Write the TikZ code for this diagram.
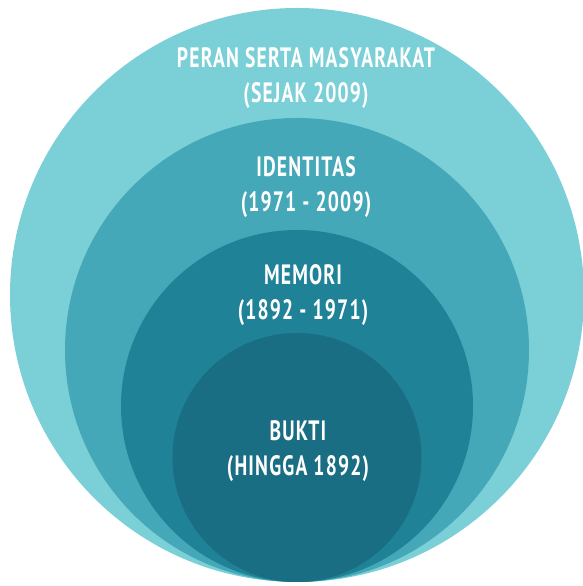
\documentclass[tikz,border=0pt]{standalone}
\usepackage{fontspec}
\setsansfont{PT Sans}
\usepackage{tikz}
\usetikzlibrary{calc}

\definecolor{ringA}{RGB}{122,208,214}
\definecolor{ringB}{RGB}{69,168,184}
\definecolor{ringC}{RGB}{31,130,151}
\definecolor{ringD}{RGB}{25,110,131}

\newcommand{\narrow}[1]{\scalebox{0.70}[1]{#1}}

\tikzset{
  ringlabel/.style={text=white, align=center, inner sep=0pt,
    font=\sffamily\bfseries\fontsize{28}{35}\selectfont\addfontfeature{LetterSpace=6}}
}

\begin{document}
\begin{tikzpicture}[x=1pt,y=1pt]
            % Page size and common touching point at the bottom
            \useasboundingbox (0,0) rectangle (583,586);
            \def\tx{297}  % x of touching point
            \def\ty{4}    % y of touching point

            % Radii of the rings
            \def\ra{287}
            \def\rb{232}
            \def\rc{176}
            \def\rd{124.5}

            % Centres of the rings
            \coordinate (T) at (\tx, \ty);
            \coordinate (CA) at (\tx, {\ty+\ra});
            \coordinate (CB) at (\tx, {\ty+\rb});
            \coordinate (CC) at (\tx, {\ty+\rc});
            \coordinate (CD) at (\tx, {\ty+\rd});

            % Draw the rings, biggest first
            \fill[ringA] (CA) circle (\ra);
            \fill[ringB] (CB) circle (\rb);
            \fill[ringC] (CC) circle (\rc);
            \fill[ringD] (CD) circle (\rd);

            % Labels
            \node[ringlabel] (peran) at (306, 508) {\narrow{PERAN SERTA MASYARAKAT}\\\narrow{(SEJAK 2009)}};
            \node[ringlabel] (identitas) at (306, 399) {\narrow{IDENTITAS}\\\narrow{(1971 - 2009)}};
            \node[ringlabel] (memori) at (303, 291) {\narrow{MEMORI}\\\narrow{(1892 - 1971)}};
            \node[ringlabel] (bukti) at (298, 135) {\narrow{BUKTI}\\\narrow{(HINGGA 1892)}};

        \end{tikzpicture}
\end{document}
